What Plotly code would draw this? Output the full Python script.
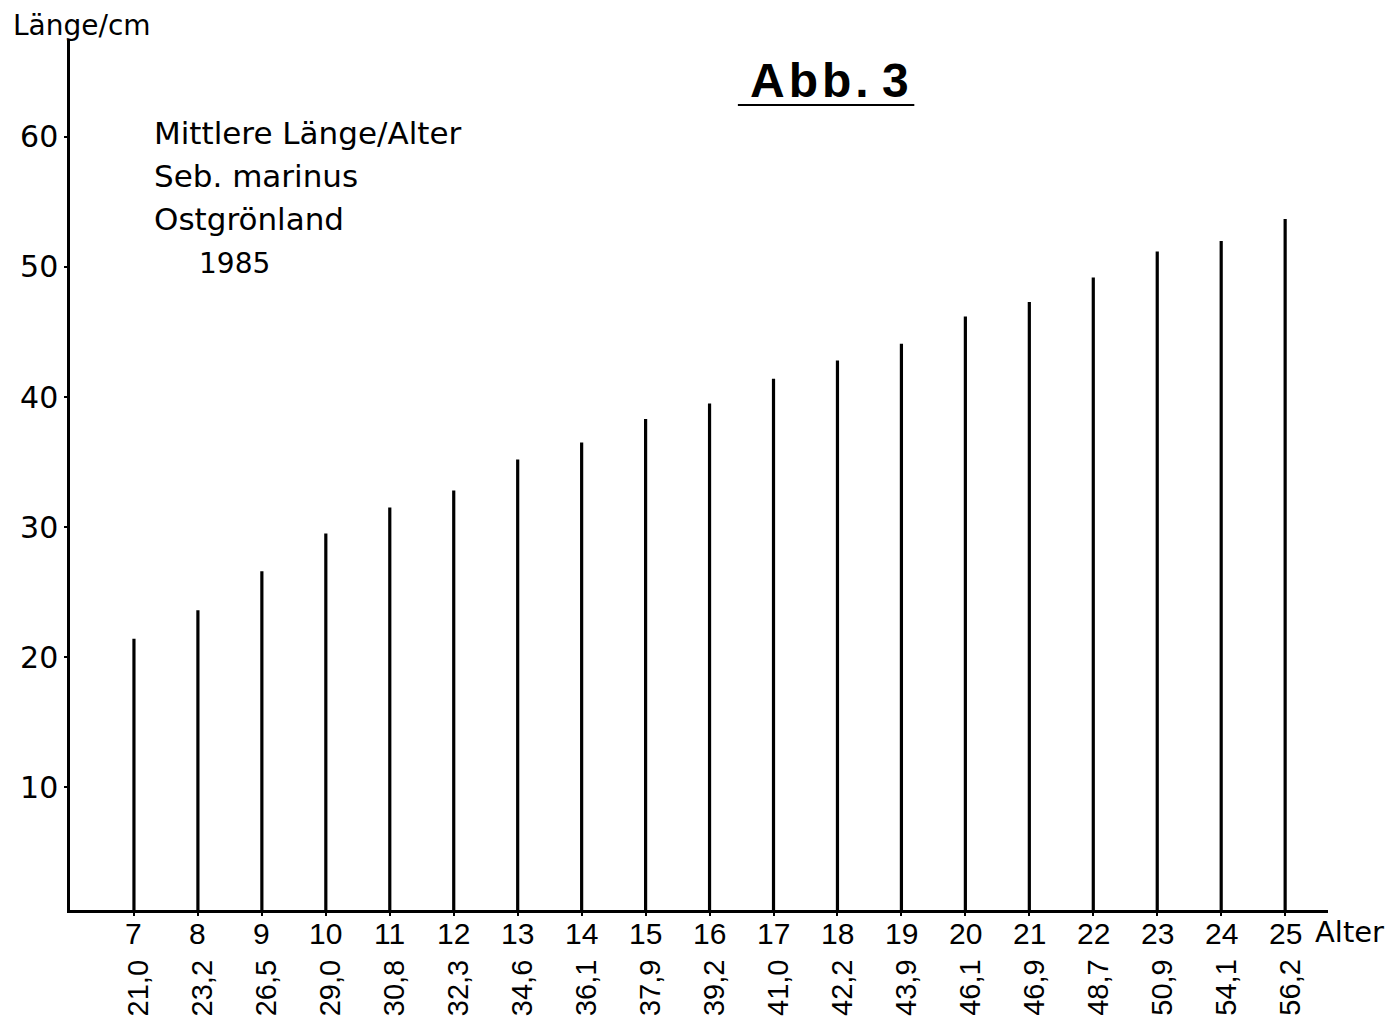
import plotly.graph_objects as go

# ---- data ----
ages = [7, 8, 9, 10, 11, 12, 13, 14, 15, 16, 17, 18, 19, 20, 21, 22, 23, 24, 25]
# heights of the drawn lines (cm), as measured on the picture
bar_lengths = [21.4, 23.6, 26.6, 29.5, 31.5, 32.8, 35.2, 36.5, 38.3, 39.5,
               41.4, 42.8, 44.1, 46.2, 47.3, 49.2, 51.2, 52.0, 53.7]
# values written under the axis
value_labels = ["21,0", "23,2", "26,5", "29,0", "30,8", "32,3", "34,6", "36,1",
                "37,9", "39,2", "41,0", "42,2", "43,9", "46,1", "46,9", "48,7",
                "50,9", "54,1", "56,2"]
y_ticks = [10, 20, 30, 40, 50, 60]
title_lines = ["Mittlere Länge/Alter", "Seb. marinus", "Ostgrönland"]
year_text = "1985"

W, H = 1398, 1028
OFF = 8  # page body margin of the html page
# plot area in screen pixels: x 66..1328, y 40..910
L, T = 66 - OFF, 40 - OFF
R, B = W - (1328 - OFF), H - (910 - OFF)
PW, PH = W - L - R, H - T - B

def px(x):
    return (x - OFF - L) / PW

def py(y):
    return (H - B - (y - OFF)) / PH

FONT = "Liberation Sans, Arial, sans-serif"
FONT2 = "DejaVu Sans, sans-serif"

fig = go.Figure()
fig.add_trace(go.Bar(
    x=ages, y=bar_lengths, base=0, width=0.05,
    marker=dict(color="black", line=dict(width=0)),
    hoverinfo="x+y",
))

annotations = []
for a in ages:
    annotations.append(dict(
        x=a, y=py(933), xref="x", yref="paper", text=str(a), showarrow=False,
        xanchor="center", yanchor="middle",
        font=dict(family=FONT, size=30, color="black"),
    ))
for a, t in zip(ages, value_labels):
    annotations.append(dict(
        x=a + 0.07, y=py(988), xref="x", yref="paper", text=t, showarrow=False,
        textangle=-90, xanchor="center", yanchor="middle",
        font=dict(family=FONT, size=29, color="black"),
    ))

annotations.append(dict(x=px(7), y=py(25), xref="paper", yref="paper",
                        text="Länge/cm", showarrow=False, xanchor="left",
                        yanchor="middle", font=dict(family=FONT2, size=28, color="black")))
annotations.append(dict(x=px(1313), y=py(932), xref="paper", yref="paper",
                        text="Alter", showarrow=False, xanchor="left",
                        yanchor="middle", font=dict(family=FONT2, size=29, color="black")))
for i, line in enumerate(title_lines):
    annotations.append(dict(x=px(148), y=py(133 + 43 * i), xref="paper", yref="paper",
                            text=line, showarrow=False, xanchor="left",
                            yanchor="middle", font=dict(family=FONT2, size=31, color="black")))
annotations.append(dict(x=px(193), y=py(263), xref="paper", yref="paper",
                        text=year_text, showarrow=False, xanchor="left",
                        yanchor="middle", font=dict(family=FONT2, size=28, color="black")))
annotations.append(dict(x=px(828), y=py(80), xref="paper", yref="paper",
                        text="<b>A\u200ab\u200ab\u200a. 3</b>", showarrow=False, xanchor="center",
                        yanchor="middle", font=dict(family=FONT, size=48, color="black")))

fig.update_layout(
    width=W, height=H, autosize=False,
    margin=dict(l=L, r=R, t=T, b=B, pad=0),
    paper_bgcolor="white", plot_bgcolor="white",
    showlegend=False,
    annotations=annotations,
    shapes=[dict(type="line", xref="paper", yref="paper",
                 x0=px(736), x1=px(913), y0=py(105), y1=py(105),
                 line=dict(color="black", width=2))],
    xaxis=dict(
        range=[6.0, 25.67], tickmode="array", tickvals=ages,
        showticklabels=False,
        showline=True, linecolor="black", linewidth=2.5,
        ticks="outside", ticklen=3, tickwidth=2, tickcolor="black",
        showgrid=False, zeroline=False,
    ),
    yaxis=dict(
        range=[0.54, 67.46], tickmode="array", tickvals=y_ticks,
        showline=True, linecolor="black", linewidth=2.5,
        ticks="outside", ticklen=3, tickwidth=1.5, tickcolor="black",
        showgrid=False, zeroline=False,
        tickfont=dict(family=FONT2, size=30, color="black"),
    ),
)

fig.write_html("out.html")
